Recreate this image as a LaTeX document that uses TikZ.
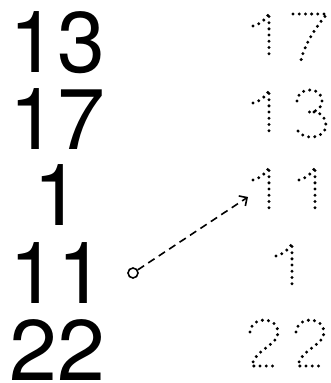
\documentclass[tikz,border=0pt]{standalone}
\usepackage{fontspec}
\setmainfont{TeX Gyre Heros}
\usetikzlibrary{arrows.meta}

\begin{document}
\begin{tikzpicture}[x=1pt,y=-1pt,
  big/.style={anchor=base,font=\fontsize{86}{86}\selectfont,inner sep=0pt,text height=62pt,text depth=0pt},
  dotline/.style={line width=3.3pt,line cap=round,dash pattern=on 0pt off 6.2pt},
  dotone/.pic={\draw[dotline] (-16,13) .. controls (-9,11) and (-3,7) .. (0,0) -- (0,46);},
  dotseven/.pic={\draw[dotline] (0,0) -- (34,0) .. controls (22,14) and (12,30) .. (8,46);},
  dotthree/.pic={\draw[dotline] (1,11) .. controls (2,3) and (7,0) .. (14,0)
      .. controls (21,0) and (26,4) .. (26,11) .. controls (26,18) and (21,22) .. (12,22);
    \draw[dotline] (18,22) .. controls (25,22) and (30,28) .. (30,35)
      .. controls (30,42) and (24,47) .. (15,47) .. controls (7,47) and (1,43) .. (0,36);},
  dottwo/.pic={\draw[dotline] (0,12) .. controls (1,4) and (7,0) .. (14,0)
      .. controls (22,0) and (28,5) .. (28,13) .. controls (28,25) and (4,30) .. (2,46) -- (28,46);}]
  \useasboundingbox (0,0) rectangle (331,383);
  % left column
  \node[big] (n13) at (57,72) {13};
  \node[big] (n17) at (57,149) {17};
  \node[big] (n1) at (57,225) {1};
  \node[big] (n11) at (57,303) {11};
  \node[big] (n22) at (57,380) {22};
  % right column, dotted
  \pic at (269,13) {dotone};
  \pic at (293,14) {dotseven};
  \pic at (269,90) {dotone};
  \pic at (296,90) {dotthree};
  \pic at (269,167) {dotone};
  \pic at (315,167) {dotone};
  \pic at (292,243) {dotone};
  \pic at (250,320) {dottwo};
  \pic at (296,320) {dottwo};
  % arrow
  \node[circle,draw,line width=1.6pt,inner sep=0pt,minimum size=10pt] (src) at (133,273) {};
  \coordinate (tgt) at (248,197);
  \draw[line width=1.6pt,dash pattern=on 7.5pt off 5pt,-{Straight Barb[length=6pt,width=12pt]}] (src) -- (tgt);
\end{tikzpicture}
\end{document}
